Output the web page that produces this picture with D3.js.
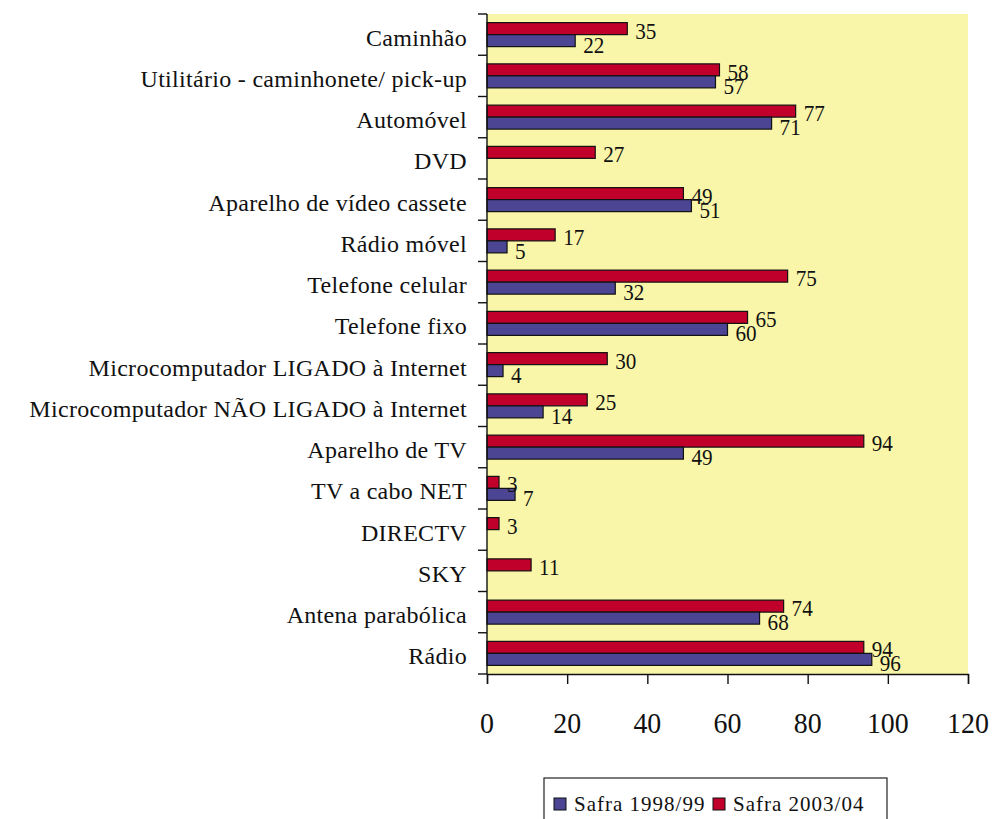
<!DOCTYPE html>
<html>
<head>
<meta charset="utf-8">
<script src="https://cdn.jsdelivr.net/npm/d3@7"></script>
<style>
  html, body { margin: 0; padding: 0; background: #ffffff; }
  svg { display: block; }
  text { font-family: "Liberation Serif", "Times New Roman", serif; fill: #111; }
</style>
</head>
<body>
<svg id="chart" width="998" height="819"></svg>
<script>
// Household goods owned, by crop season (%)
const categories = [
  "Caminhão",
  "Utilitário - caminhonete/ pick-up",
  "Automóvel",
  "DVD",
  "Aparelho de vídeo cassete",
  "Rádio móvel",
  "Telefone celular",
  "Telefone fixo",
  "Microcomputador LIGADO à Internet",
  "Microcomputador NÃO LIGADO à Internet",
  "Aparelho de TV",
  "TV a cabo NET",
  "DIRECTV",
  "SKY",
  "Antena parabólica",
  "Rádio"
];
const safra1998 = [22, 57, 71, null, 51, 5, 32, 60, 4, 14, 49, 7, null, null, 68, 96];
const safra2003 = [35, 58, 77, 27, 49, 17, 75, 65, 30, 25, 94, 3, 3, 11, 74, 94];
const seriesNames = ["Safra 1998/99", "Safra 2003/04"];
const xTicks = [0, 20, 40, 60, 80, 100, 120];

const colors = { s1998: "#4B4593", s2003: "#C0002A", plot: "#F9F6A9" };

const margin = { top: 14, left: 487 };
const plotW = 968 - margin.left;
const plotH = 674 - margin.top;

const svg = d3.select("#chart");
const g = svg.append("g").attr("transform", `translate(${margin.left},${margin.top})`);

const x = d3.scaleLinear().domain([0, 120]).range([0, plotW]);
const y = d3.scaleBand().domain(categories).range([0, plotH]).paddingInner(0).paddingOuter(0);
const barH = 12;

// text helper (alphabetic baseline, optional horizontal condensing)
function label(parent, str, px, py, size, anchor, sx = 1, spacing = 0) {
  return parent.append("text")
    .attr("transform", `translate(${px},${py}) scale(${sx},1)`)
    .attr("text-anchor", anchor)
    .style("font-size", size + "px")
    .style("letter-spacing", spacing + "px")
    .text(str);
}

// plot background
g.append("rect").attr("x", 0).attr("y", 0).attr("width", plotW).attr("height", plotH)
  .attr("fill", colors.plot);

const rows = categories.map((c, i) => ({ c, a: safra1998[i], b: safra2003[i] }));

// bars: 2003/04 above, 1998/99 below the band centre
rows.forEach(r => {
  const cy = y(r.c) + y.bandwidth() / 2;
  if (r.b !== null) {
    g.append("rect").attr("x", x(0)).attr("y", cy - barH).attr("width", x(r.b) - x(0)).attr("height", barH)
      .attr("fill", colors.s2003).attr("stroke", "#111").attr("stroke-width", 1.2);
  }
  if (r.a !== null) {
    g.append("rect").attr("x", x(0)).attr("y", cy).attr("width", x(r.a) - x(0)).attr("height", barH)
      .attr("fill", colors.s1998).attr("stroke", "#111").attr("stroke-width", 1.2);
  }
});

// value labels
rows.forEach(r => {
  const cy = y(r.c) + y.bandwidth() / 2;
  if (r.b !== null) label(g, r.b, x(r.b) + 8, cy - barH / 2 + 10, 23, "start", 0.92);
  if (r.a !== null) label(g, r.a, x(r.a) + 8, cy + barH / 2 + 12, 23, "start", 0.92);
});

// category labels
rows.forEach(r => {
  const cy = y(r.c) + y.bandwidth() / 2;
  label(g, r.c, -20, cy + 11, 24, "end", 1, 0.3);
});

// y axis line and boundary ticks
g.append("line").attr("x1", 0).attr("x2", 0).attr("y1", 0).attr("y2", plotH)
  .attr("stroke", "#111").attr("stroke-width", 1.4);
d3.range(categories.length + 1).forEach(i => {
  const yy = i * y.step();
  g.append("line").attr("x1", -9).attr("x2", 0).attr("y1", yy).attr("y2", yy)
    .attr("stroke", "#111").attr("stroke-width", 1.4);
});

// x axis
const xAxis = g.append("g").attr("transform", `translate(0,${plotH})`)
  .call(d3.axisBottom(x).tickValues(xTicks).tickSize(10).tickFormat(""));
xAxis.select(".domain").attr("stroke", "#111").attr("stroke-width", 1.4);
xAxis.selectAll(".tick line").attr("stroke", "#111").attr("stroke-width", 1.4);
xTicks.forEach(t => label(g, t, x(t), 733 - margin.top, 30, "middle", 0.93));

// legend
const lg = svg.append("g");
lg.append("rect").attr("x", 544).attr("y", 778).attr("width", 343).attr("height", 60)
  .attr("fill", "#fff").attr("stroke", "#222").attr("stroke-width", 1.2);
const legendItems = [
  { name: seriesNames[0], color: colors.s1998, x: 554 },
  { name: seriesNames[1], color: colors.s2003, x: 713 }
];
legendItems.forEach(it => {
  lg.append("rect").attr("x", it.x).attr("y", 798).attr("width", 12).attr("height", 12)
    .attr("fill", it.color).attr("stroke", "#111").attr("stroke-width", 1);
  label(lg, it.name, it.x + 20, 811, 21, "start", 1, 1);
});
</script>
</body>
</html>
